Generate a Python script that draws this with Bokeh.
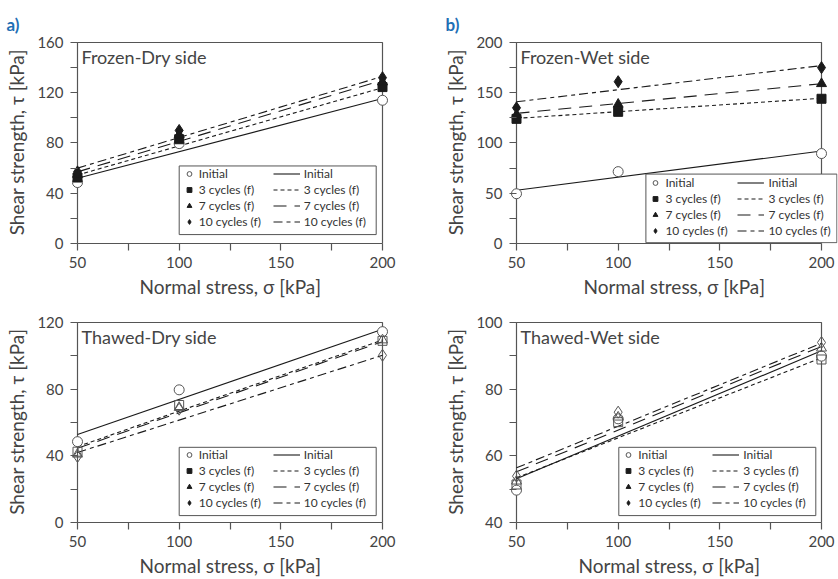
from bokeh.plotting import figure
from bokeh.models import Range1d, FixedTicker, Legend, LegendItem, Label, BoxAnnotation
from bokeh.layouts import column, row
from bokeh.embed import file_html
from bokeh.resources import INLINE

FONT = "Lato"

# ---------------- data ----------------
x_stress = [50, 100, 200]
fit_x = [50, 200]
series = ["Initial", "3 cycles (f)", "7 cycles (f)", "10 cycles (f)"]

# a) Frozen-Dry side
fd_initial = [48.5, 79.5, 114.0]
fd_c3 = [52.5, 83.0, 124.5]
fd_c7 = [55.0, 86.5, 128.5]
fd_c10 = [57.0, 90.0, 132.0]
fd_fit_initial = [52.0, 115.4]
fd_fit_c3 = [54.5, 124.0]
fd_fit_c7 = [57.0, 130.0]
fd_fit_c10 = [60.0, 133.0]

# b) Frozen-Wet side
fw_initial = [49.5, 71.5, 89.5]
fw_c3 = [124.0, 131.0, 144.0]
fw_c7 = [128.0, 138.5, 159.0]
fw_c10 = [135.0, 161.0, 175.0]
fw_fit_initial = [53.0, 92.0]
fw_fit_c3 = [124.5, 144.5]
fw_fit_c7 = [129.5, 159.0]
fw_fit_c10 = [141.0, 177.0]

# c) Thawed-Dry side
td_initial = [48.5, 79.6, 114.5]
td_c3 = [42.5, 70.5, 109.0]
td_c7 = [41.0, 69.0, 109.5]
td_c10 = [39.6, 68.0, 100.3]
td_fit_initial = [52.8, 115.9]
td_fit_c3 = [45.5, 109.5]
td_fit_c7 = [44.5, 108.5]
td_fit_c10 = [42.0, 100.3]

# d) Thawed-Wet side
tw_initial = [49.7, 71.1, 89.9]
tw_c3 = [51.4, 70.1, 88.9]
tw_c7 = [52.4, 71.6, 92.3]
tw_c10 = [53.9, 73.1, 94.0]
tw_fit_initial = [53.1, 91.5]
tw_fit_c3 = [53.4, 89.4]
tw_fit_c7 = [55.2, 92.8]
tw_fit_c10 = [56.4, 93.8]

x_ticks = [50, 75, 100, 125, 150, 175, 200]
x_labeled = [50, 100, 150, 200]

markers = ["circle", "square", "triangle", "diamond"]
msizes = [10, 9, 10, 12]
dashes = ["solid", "4 3", "13 8", "9 4 4 4"]

INK = "#1a1a1a"
GREY = "#555555"
TXT = "#444444"
BLUE = "#1f6fb5"

XMIN, XMAX = 50, 200
TICK = 7


def make_panel(tag, side, yr, yticks, ylab, pts, fits, hollow, lbox, l2off,
               width, height, axis_box, pads):
    # axis_box: pixel positions (in the figure) of x=50, x=200, y=top, y=bottom
    ax_l, ax_r, ax_t, ax_b = axis_box
    pl, pr, pt = pads  # extra frame room (px) around the plot box
    xppu = (ax_r - ax_l) / (XMAX - XMIN)
    yppu = (ax_b - ax_t) / (yr[1] - yr[0])
    bl, br = ax_l - pl, width - (ax_r + pr)
    bt, bb = ax_t - pt, height - ax_b
    p = figure(width=width, height=height,
               x_range=Range1d(XMIN - pl / xppu, XMAX + pr / xppu),
               y_range=Range1d(yr[0], yr[1] + pt / yppu),
               output_backend="svg", toolbar_location=None, title=tag,
               min_border_left=bl, min_border_right=br,
               min_border_top=bt, min_border_bottom=bb)
    p.background_fill_color = "white"
    p.border_fill_color = "white"
    p.xgrid.visible = False
    p.ygrid.visible = False
    p.outline_line_color = None
    if tag:
        p.title.text_color = BLUE
        p.title.text_font = FONT
        p.title.text_font_style = "bold"
        p.title.text_font_size = "17px"
        p.title.align = "left"
        p.title.offset = -(pl + 59)
        p.title.vertical_align = "top"
        p.title.text_line_height = 1.65

    p.xaxis.ticker = FixedTicker(ticks=x_ticks)
    p.xaxis.major_label_overrides = {t: (str(t) if t in x_labeled else "") for t in x_ticks}
    p.xaxis.bounds = (XMIN, XMAX)
    p.yaxis.ticker = FixedTicker(ticks=yticks)
    p.yaxis.major_label_overrides = {t: (str(t) if t in ylab else "") for t in yticks}
    p.xaxis.axis_label = "Normal stress, σ [kPa]"
    p.yaxis.axis_label = "Shear strength, τ [kPa]"
    for ax in (p.xaxis, p.yaxis):
        ax.axis_line_color = GREY
        ax.axis_line_width = 1.2
        ax.major_tick_line_color = GREY
        ax.major_tick_line_width = 1.2
        ax.minor_tick_line_color = None
        ax.major_label_text_font = FONT
        ax.major_label_text_font_size = "15px"
        ax.major_label_text_color = TXT
        ax.axis_label_text_font = FONT
        ax.axis_label_text_font_size = "19px"
        ax.axis_label_text_font_style = "normal"
        ax.axis_label_text_color = TXT
    p.xaxis.major_tick_in = 0
    p.xaxis.major_tick_out = TICK
    p.xaxis.major_label_standoff = 6
    p.xaxis.axis_label_standoff = 4
    # y axis sits at x = 50, pl px right of the frame edge
    p.yaxis.axis_line_color = None
    p.yaxis.major_tick_in = pl
    p.yaxis.major_tick_out = TICK - pl
    p.yaxis.major_label_standoff = 7
    p.yaxis.axis_label_standoff = 6

    # plot box at x = 50..200
    p.add_layout(BoxAnnotation(left=XMIN, right=XMAX, bottom=yr[0], top=yr[1],
                               fill_color=None, line_color=GREY, line_width=1.2,
                               line_alpha=1, level="underlay"))

    line_rs = []
    for vals, dash in zip(fits, dashes):
        r = p.line(fit_x, vals, line_color=INK, line_width=1.1, line_dash=dash)
        line_rs.append(r)

    mark_rs = []
    for i, (vals, mk, ms) in enumerate(zip(pts, markers, msizes)):
        if i == 0:
            r = p.scatter(x_stress, vals, marker=mk, size=ms, fill_color="white",
                          line_color=GREY, line_width=1)
            mark_rs.append(r)
        elif hollow:
            p.scatter(x_stress, vals, marker=mk, size=ms, fill_color=None,
                      line_color=GREY, line_width=1)
            # legend proxy (filled symbol), kept outside the visible range
            r = p.scatter([XMIN], [yr[0] - 1000], marker=mk, size=ms, fill_color=INK,
                          line_color=INK)
            mark_rs.append(r)
        else:
            r = p.scatter(x_stress, vals, marker=mk, size=ms, fill_color=INK,
                          line_color=INK, line_width=1)
            mark_rs.append(r)

    # legend box
    dx, dy, bw, bh = lbox
    bx0 = XMIN + dx / xppu
    by0 = yr[0] + dy / yppu
    p.add_layout(BoxAnnotation(left=bx0, right=bx0 + bw / xppu, bottom=by0,
                               top=by0 + bh / yppu, fill_color="white", fill_alpha=1,
                               line_color=GREY, line_width=1, line_alpha=1))
    rows_h = 60
    ly = dy + (bh - rows_h) / 2
    common = dict(label_text_font=FONT, label_text_font_size="12px",
                  label_text_color="#333333", glyph_height=15,
                  label_height=14, label_standoff=4, spacing=1, padding=0,
                  margin=0, border_line_color=None, background_fill_alpha=0)
    leg1 = Legend(items=[LegendItem(label=s, renderers=[r]) for s, r in zip(series, mark_rs)],
                  location=(pl + dx + 4, ly), glyph_width=12, **common)
    leg2 = Legend(items=[LegendItem(label=s, renderers=[r]) for s, r in zip(series, line_rs)],
                  location=(pl + dx + l2off, ly), glyph_width=27, **common)
    p.add_layout(leg1)
    p.add_layout(leg2)

    p.add_layout(Label(x=XMIN, y=yr[1], x_offset=4, y_offset=-4, text=side,
                       text_baseline="top", text_font=FONT,
                       text_font_size="18px", text_color=TXT))
    return p


pa = make_panel("a)", "Frozen-Dry side", (0, 160), list(range(0, 161, 20)), [0, 40, 80, 120, 160],
                [fd_initial, fd_c3, fd_c7, fd_c10],
                [fd_fit_initial, fd_fit_c3, fd_fit_c7, fd_fit_c10],
                False, (101.7, 9, 197, 69.3), 94, 419, 300,
                (77, 382, 42, 245), (6, 6, 1))
pb = make_panel("b)", "Frozen-Wet side", (0, 200), list(range(0, 201, 25)), [0, 50, 100, 150, 200],
                [fw_initial, fw_c3, fw_c7, fw_c10],
                [fw_fit_initial, fw_fit_c3, fw_fit_c7, fw_fit_c10],
                False, (129.4, 0.8, 191, 69.3), 92, 419, 300,
                (97, 402, 42, 245), (6, 16, 1))
pc = make_panel(None, "Thawed-Dry side", (0, 120), list(range(0, 121, 20)), [0, 40, 80, 120],
                [td_initial, td_c3, td_c7, td_c10],
                [td_fit_initial, td_fit_c3, td_fit_c7, td_fit_c10],
                True, (101.7, 7, 197, 69.3), 94, 419, 279,
                (77, 382, 22, 225), (6, 6, 1))
pd_ = make_panel(None, "Thawed-Wet side", (40, 100), list(range(40, 101, 10)), [40, 60, 80, 100],
                 [tw_initial, tw_c3, tw_c7, tw_c10],
                 [tw_fit_initial, tw_fit_c3, tw_fit_c7, tw_fit_c10],
                 True, (102.3, 7, 197, 69.3), 94, 419, 279,
                 (97, 402, 22, 225), (6, 6, 1))

layout = column(row(pa, pb), row(pc, pd_))
open("out.html", "w").write(file_html(layout, INLINE))
